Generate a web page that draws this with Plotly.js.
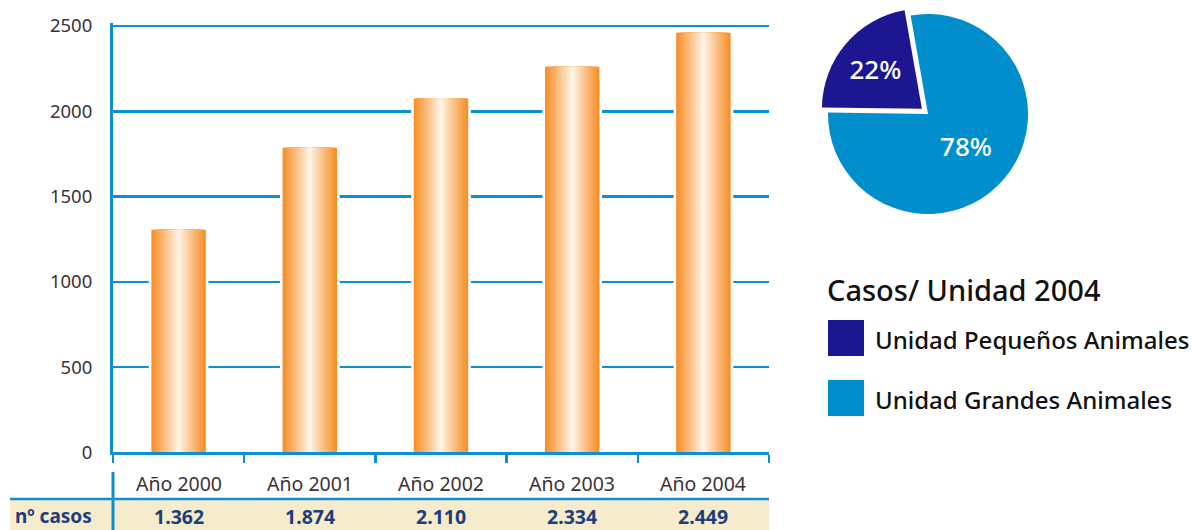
<!DOCTYPE html>
<html>
<head>
<meta charset="utf-8">
<script src="https://cdn.plot.ly/plotly-3.0.1.min.js"></script>
<style>html,body{margin:0;padding:0;background:#fff;}#chart{width:1192px;height:530px;}</style>
</head>
<body>
<div id="chart"></div>
<script>
// ---- data ----
const categories = ["Año 2000", "Año 2001", "Año 2002", "Año 2003", "Año 2004"];
const barValues = [1305, 1786, 2075, 2261, 2461];           // heights as drawn
const tableLabels = ["1.362", "1.874", "2.110", "2.334", "2.449"];
const rowLabel = "nº casos";
const pieLabels = ["Unidad Grandes Animales", "Unidad Pequeños Animales"];
const pieValues = [78, 22];
const pieColors = ["#008fcc", "#1c1791"];
const legendTitle = "Casos/ Unidad 2004";
const yTicks = [0, 500, 1000, 1500, 2000, 2500];

// ---- styles ----
const W = 1192, H = 530;
const px = v => v / W, py = v => 1 - v / H;
const blue = "#0a90d2";
const font = "Noto Sans, Open Sans, DejaVu Sans, sans-serif";
const barW = 0.415;
const edge = [247, 144, 42], centre = [255, 252, 246];
const N = 16;
const yMax = 2520;
const pxPerUnit = (452.3 - 26) / 2500;

const traces = [];
// white halo behind bars (gap to the grid lines)
traces.push({type: "bar", x: categories, y: barValues, width: barW + 0.04,
  marker: {color: "#ffffff"}, hoverinfo: "skip", showlegend: false, xaxis: "x", yaxis: "y"});
for (let k = 0; k < N; k++) {
  const t = 1 - k / N;             // 1 at edge, ~0 at centre
  const f = Math.pow(t, 0.9);
  const c = edge.map((e, i) => Math.round(centre[i] + (e - centre[i]) * f));
  traces.push({type: "bar", x: categories, y: barValues, width: barW * t,
    marker: {color: `rgb(${c[0]},${c[1]},${c[2]})`, line: {width: 0}},
    hoverinfo: "skip", showlegend: false, xaxis: "x", yaxis: "y"});
}

traces.push({type: "pie", labels: pieLabels, values: pieValues, sort: false,
  direction: "clockwise", rotation: -10, pull: [0, 0.08],
  marker: {colors: pieColors, line: {width: 0}},
  textinfo: "percent", textposition: "inside", insidetextorientation: "horizontal",
  textfont: {color: "#ffffff", size: 26, family: font, weight: 500},
  domain: {x: [px(820), px(1036)], y: [py(222), py(6)]},
  showlegend: false, hoverinfo: "label+percent"});

const annotations = [];
categories.forEach((c, i) => {
  annotations.push({x: c, xref: "x", y: py(483), yref: "paper", text: c, showarrow: false,
    font: {family: font, size: 19.5, color: "#3b3236"}, xanchor: "center", yanchor: "middle"});
  annotations.push({x: c, xref: "x", y: py(516), yref: "paper", text: "<b>" + tableLabels[i] + "</b>", showarrow: false,
    font: {family: font, size: 19.5, color: "#1b3f7d"}, xanchor: "center", yanchor: "middle", borderpad: 0});
});
annotations.push({x: px(14), xref: "paper", y: py(516), yref: "paper", text: "<b>" + rowLabel + "</b>", showarrow: false,
  font: {family: font, size: 19, color: "#1b3f7d"}, xanchor: "left", yanchor: "middle", borderpad: 0});
annotations.push({x: px(825), xref: "paper", y: py(289), yref: "paper", text: legendTitle, showarrow: false,
  font: {family: font, size: 29, color: "#111111", weight: 500}, xanchor: "left", yanchor: "middle"});
annotations.push({x: px(873), xref: "paper", y: py(339), yref: "paper", text: pieLabels[1], showarrow: false,
  font: {family: font, size: 24, color: "#111111", weight: 500}, xanchor: "left", yanchor: "middle"});
annotations.push({x: px(873), xref: "paper", y: py(399), yref: "paper", text: pieLabels[0], showarrow: false,
  font: {family: font, size: 24, color: "#111111", weight: 500}, xanchor: "left", yanchor: "middle"});

const shapes = [
  {type: "rect", xref: "paper", yref: "paper", x0: px(10), x1: px(769), y0: 0, y1: py(500),
    fillcolor: "#f6ebcb", line: {width: 0}, layer: "below"},
  {type: "line", xref: "paper", yref: "paper", x0: px(10), x1: px(769), y0: py(499), y1: py(499),
    line: {color: blue, width: 2.5}},
  {type: "line", xref: "paper", yref: "paper", x0: px(113), x1: px(113), y0: py(472), y1: 0,
    line: {color: blue, width: 3}},
  {type: "rect", xref: "paper", yref: "paper", x0: px(828), x1: px(864), y0: py(356), y1: py(320),
    fillcolor: pieColors[1], line: {width: 0}},
  {type: "rect", xref: "paper", yref: "paper", x0: px(828), x1: px(864), y0: py(416), y1: py(380),
    fillcolor: pieColors[0], line: {width: 0}}
];

const layout = {
  width: W, height: H, margin: {l: 0, r: 0, t: 0, b: 0},
  paper_bgcolor: "#ffffff", plot_bgcolor: "rgba(0,0,0,0)",
  barmode: "overlay", showlegend: false,
  font: {family: font},
  xaxis: {domain: [px(113), px(769)], type: "category", categoryorder: "array", categoryarray: categories,
    showline: true, linecolor: blue, linewidth: 3, ticks: "outside", tickson: "boundaries",
    ticklen: 8, tickwidth: 2.5, tickcolor: blue, showticklabels: false, showgrid: false,
    zeroline: false, fixedrange: true},
  yaxis: {domain: [py(452.3), py(26 - (yMax - 2500) * pxPerUnit)], range: [0, yMax], tickvals: yTicks,
    showline: true, linecolor: blue, linewidth: 3, showgrid: true, gridcolor: blue, gridwidth: 2.5,
    zeroline: false, ticks: "", ticklabelstandoff: 14,
    tickfont: {family: font, size: 18.5, color: "#3b3236"}, fixedrange: true},
  annotations: annotations,
  shapes: shapes
};

Plotly.newPlot("chart", traces, layout, {displayModeBar: false, staticPlot: true});
</script>
</body>
</html>
